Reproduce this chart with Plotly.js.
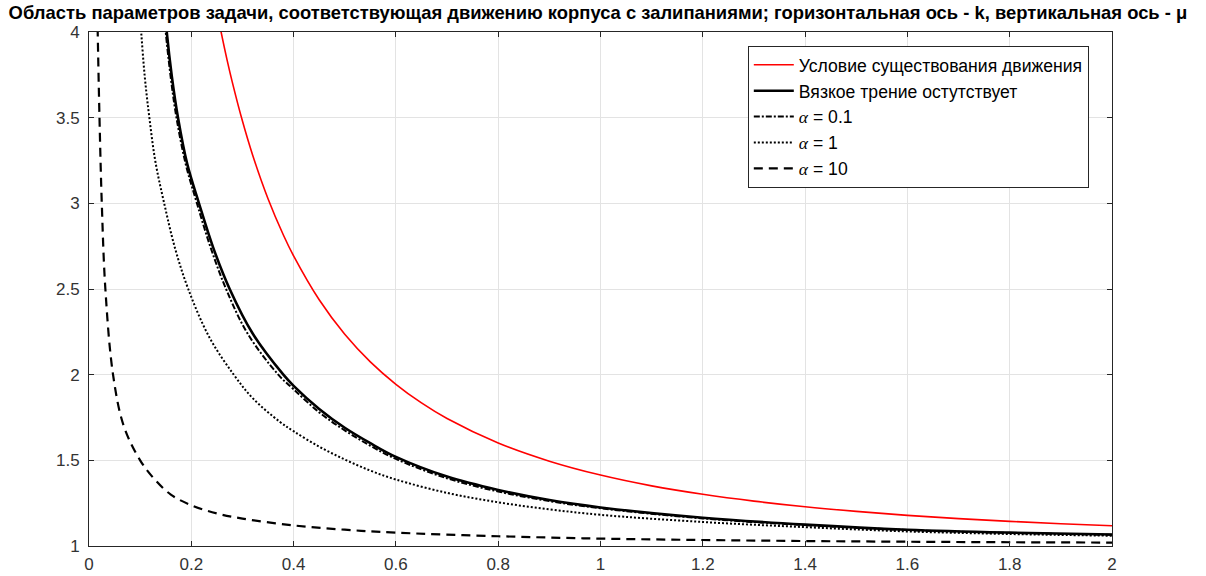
<!DOCTYPE html>
<html>
<head>
<meta charset="utf-8">
<script src="https://cdn.plot.ly/plotly-3.0.1.min.js"></script>
<style>html,body{margin:0;padding:0;background:#fff;}#chart{width:1206px;height:576px;}</style>
</head>
<body>
<div id="chart"></div>
<script>
// Red: condition of existence of motion
const kRed = [0.25, 0.257, 0.27, 0.28, 0.3, 0.32, 0.35, 0.38, 0.4, 0.45, 0.5, 0.55, 0.6, 0.65, 0.7, 0.8, 0.9, 1.0, 1.1, 1.2, 1.3, 1.4, 1.5, 1.6, 1.7, 1.8, 1.9, 2.0];
const muRed = [4.123, 4.018, 3.836, 3.709, 3.480, 3.281, 3.027, 2.815, 2.693, 2.437, 2.236, 2.075, 1.944, 1.835, 1.744, 1.601, 1.495, 1.414, 1.351, 1.302, 1.262, 1.229, 1.202, 1.179, 1.160, 1.144, 1.130, 1.118];

// Solid black: no viscous friction
const kSolid = [0.145, 0.152, 0.162, 0.174, 0.192, 0.215, 0.243, 0.275, 0.32, 0.38, 0.4, 0.45, 0.5, 0.55, 0.6, 0.7, 0.8, 0.9, 1.0, 1.2, 1.4, 1.6, 1.8, 2.0];
const muSolid = [4.25, 4.0, 3.74, 3.5, 3.23, 3.0, 2.74, 2.5, 2.24, 2.0, 1.935, 1.80, 1.69, 1.60, 1.52, 1.405, 1.327, 1.268, 1.225, 1.165, 1.125, 1.095, 1.078, 1.067];

// alpha = 0.1 (dash-dot)
const kA01 = [0.143, 0.15, 0.16, 0.171, 0.189, 0.211, 0.238, 0.268, 0.31, 0.37, 0.4, 0.45, 0.5, 0.55, 0.6, 0.7, 0.8, 0.9, 1.0, 1.2, 1.4, 1.6, 1.8, 2.0];
const muA01 = [4.25, 4.0, 3.73, 3.5, 3.23, 3.0, 2.74, 2.5, 2.24, 2.0, 1.915, 1.78, 1.675, 1.585, 1.508, 1.395, 1.318, 1.262, 1.22, 1.161, 1.122, 1.093, 1.076, 1.065];

// alpha = 1 (dotted)
const kA1 = [0.097, 0.102, 0.109, 0.118, 0.13, 0.147, 0.168, 0.194, 0.235, 0.283, 0.321, 0.373, 0.4, 0.45, 0.5, 0.55, 0.6, 0.7, 0.8, 0.9, 1.0, 1.2, 1.4, 1.6, 1.8, 2.0];
const muA1 = [4.2, 4.0, 3.74, 3.5, 3.24, 3.0, 2.74, 2.5, 2.22, 2.0, 1.86, 1.725, 1.67, 1.58, 1.505, 1.44, 1.388, 1.31, 1.255, 1.214, 1.182, 1.14, 1.11, 1.085, 1.07, 1.06];

// alpha = 10 (dashed)
const kA10 = [0.0158, 0.017, 0.0205, 0.025, 0.032, 0.047, 0.068, 0.1, 0.128, 0.16, 0.2, 0.25, 0.3, 0.4, 0.5, 0.6, 0.8, 1.0, 1.2, 1.4, 1.6, 1.8, 2.0];
const muA10 = [4.2, 4.0, 3.5, 3.0, 2.5, 2.0, 1.7, 1.5, 1.39, 1.3, 1.238, 1.19, 1.16, 1.12, 1.095, 1.078, 1.057, 1.043, 1.035, 1.029, 1.025, 1.022, 1.02];

const alphaSym = '<span style="font-family:\'Liberation Serif\',\'DejaVu Serif\',serif"><i>α</i></span>';
const legendNames = [
  'Условие существования движения',
  'Вязкое трение остутствует',
  alphaSym + ' = 0.1',
  alphaSym + ' = 1',
  alphaSym + ' = 10'
];
const xTicks = [0, 0.2, 0.4, 0.6, 0.8, 1, 1.2, 1.4, 1.6, 1.8, 2];
const xTickText = ['0', '0.2', '0.4', '0.6', '0.8', '1', '1.2', '1.4', '1.6', '1.8', '2'];
const yTicks = [1, 1.5, 2, 2.5, 3, 3.5, 4];
const yTickText = ['1', '1.5', '2', '2.5', '3', '3.5', '4'];

const traces = [
  {x: kRed, y: muRed, name: legendNames[0], legendgroup: 'g0', mode: 'lines', line: {color: '#ff0000', width: 1.6, shape: 'spline'}},
  {x: kSolid, y: muSolid, name: legendNames[1], legendgroup: 'g1', mode: 'lines', line: {color: '#000000', width: 2.6, shape: 'spline'}},
  {x: kA01, y: muA01, name: legendNames[2], legendgroup: 'g2', mode: 'lines', line: {color: '#000000', width: 2, dash: '6px,2px,2px,2px', shape: 'spline'}},
  {x: kA1, y: muA1, name: legendNames[3], legendgroup: 'g3', mode: 'lines', line: {color: '#000000', width: 2, dash: '2px,2px', shape: 'spline'}},
  {x: kA10, y: muA10, name: legendNames[4], legendgroup: 'g4', mode: 'lines', line: {color: '#000000', width: 2.2, dash: '9px,6px', shape: 'spline'}}
];

const axisCommon = {
  showline: true, linecolor: '#262626', linewidth: 1, mirror: 'allticks',
  ticks: 'inside', ticklen: 5, tickcolor: '#262626', tickwidth: 1,
  showgrid: true, gridcolor: '#e3e3e3', gridwidth: 1, zeroline: false,
  tickfont: {family: 'Liberation Sans, Arial, sans-serif', size: 17, color: '#333333'}
};

const layout = {
  width: 1206, height: 576,
  margin: {l: 89, r: 94, t: 32, b: 30, pad: 0},
  paper_bgcolor: '#ffffff', plot_bgcolor: '#ffffff',
  title: {
    text: 'Область параметров задачи, соответствующая движению корпуса с залипаниями; горизонтальная ось - k, вертикальная ось - μ',
    font: {family: 'Liberation Sans, Arial, sans-serif', size: 18.4, color: '#000000', weight: 'bold'},
    x: 0.4975, xanchor: 'center', xref: 'paper', y: 0.978, yanchor: 'middle', yref: 'container'
  },
  xaxis: Object.assign({}, axisCommon, {range: [0, 2], tickvals: xTicks, ticktext: xTickText, ticklabelstandoff: 3}),
  yaxis: Object.assign({}, axisCommon, {range: [1, 4], tickvals: yTicks, ticktext: yTickText, ticklabelstandoff: 5}),
  showlegend: true,
  legend: {
    x: 0.644, y: 0.973, xanchor: 'left', yanchor: 'top',
    bgcolor: '#ffffff', bordercolor: '#262626', borderwidth: 1,
    font: {family: 'Liberation Sans, Arial, sans-serif', size: 17.6, color: '#000000'},
    tracegroupgap: 0, traceorder: 'normal', itemwidth: 40
  }
};

Plotly.newPlot('chart', traces, layout, {staticPlot: true, displayModeBar: false});
</script>
</body>
</html>
